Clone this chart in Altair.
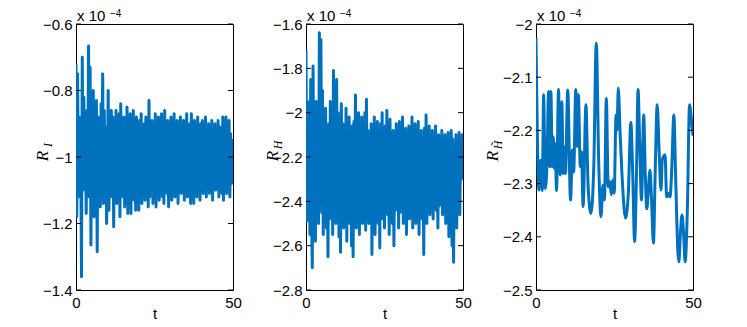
import altair as alt
import pandas as pd

W, H = 157, 266
LINE_COLOR = "#0072BD"

# sample times for the two dense series
t_dense = [i * 0.25 for i in range(201)]

R_I = [
    -0.72, -1.18, -0.75, -1.05, -0.88, -1.12, -0.95, -1.36, -0.70, -1.10,
    -0.82, -1.08, -0.90, -1.17, -0.86, -1.05, -0.666, -1.12, -0.73, -1.265,
    -0.85, -1.10, -0.80, -1.18, -0.92, -1.06, -0.83, -1.285, -0.88, -1.12,
    -0.90, -1.15, -0.84, -1.05, -0.75, -1.14, -0.86, -1.08, -0.91, -1.20,
    -1.04, -0.80, -1.16, -0.90, -1.12, -0.86, -1.07, -0.88, -1.21, -0.92,
    -1.10, -0.86, -1.14, -0.93, -1.06, -0.87, -1.18, -0.84, -1.09, -0.90,
    -1.12, -0.88, -1.15, -0.92, -1.05, -0.85, -1.17, -0.89, -1.10, -0.87,
    -1.17, -0.94, -1.08, -0.86, -1.13, -0.91, -1.16, -0.88, -1.06, -0.93,
    -1.16, -0.89, -1.11, -0.87, -1.14, -0.92, -1.05, -0.90, -1.13, -0.88,
    -1.09, -0.93, -1.15, -0.83, -1.12, -0.90, -1.06, -0.89, -1.14, -0.92,
    -1.08, -0.87, -1.15, -0.91, -1.10, -0.88, -1.13, -0.94, -1.05, -0.87,
    -1.12, -0.90, -1.14, -0.86, -1.07, -0.92, -1.11, -0.89, -1.15, -0.93,
    -1.06, -0.88, -1.13, -0.91, -1.09, -0.87, -1.12, -0.94, -1.07, -0.89,
    -1.14, -0.92, -1.08, -0.88, -1.11, -0.93, -1.05, -0.89, -1.13, -0.91,
    -1.09, -0.87, -1.12, -0.94, -1.06, -0.90, -1.14, -0.87, -1.10, -0.92,
    -1.14, -0.89, -1.07, -0.93, -1.12, -0.88, -1.09, -0.91, -1.13, -0.90,
    -1.06, -0.89, -1.11, -0.93, -1.08, -0.88, -1.12, -0.92, -1.05, -0.90,
    -1.11, -0.94, -1.07, -0.89, -1.13, -0.92, -1.06, -0.90, -1.10, -0.93,
    -1.08, -0.89, -1.12, -0.91, -1.06, -0.93, -1.11, -0.88, -1.13, -0.92,
    -1.07, -0.88, -1.11, -0.92, -1.06, -0.89, -1.12, -0.93, -1.08, -0.95,
    -1.04,
]

R_H = [
    -1.72, -2.49, -1.95, -2.30, -2.10, -2.55, -1.85, -2.45, -2.70, -1.79,
    -2.40, -2.05, -2.58, -1.95, -2.35, -2.10, -2.50, -1.64, -2.30, -1.67,
    -2.45, -1.90, -2.55, -2.08, -2.40, -1.98, -2.52, -2.12, -2.65, -2.05,
    -2.48, -1.95, -2.38, -2.02, -2.55, -1.81, -2.42, -2.10, -2.50, -1.85,
    -2.44, -2.00, -2.56, -2.08, -2.63, -1.96, -2.40, -2.05, -2.52, -2.12,
    -2.45, -1.98, -2.58, -2.10, -2.38, -2.02, -2.50, -2.14, -2.60, -2.06,
    -2.65, -2.04, -2.42, -1.92, -2.52, -2.10, -2.36, -2.00, -2.55, -2.12,
    -2.44, -2.02, -2.50, -2.15, -2.40, -2.00, -2.53, -1.94, -2.38, -2.08,
    -2.50, -2.10, -2.46, -2.05, -2.64, -2.12, -2.42, -2.02, -2.55, -2.15,
    -2.40, -2.04, -2.50, -2.12, -2.61, -2.05, -2.38, -2.00, -2.48, -2.14,
    -2.52, -2.06, -2.42, -1.99, -2.46, -2.12, -2.55, -2.03, -2.40, -2.10,
    -2.50, -2.08, -2.60, -2.14, -2.44, -2.05, -2.38, -2.11, -2.52, -2.04,
    -2.45, -2.10, -2.36, -2.02, -2.50, -2.13, -2.42, -2.07, -2.55, -2.10,
    -2.44, -2.06, -2.48, -2.12, -2.38, -2.02, -2.52, -2.14, -2.40, -2.05,
    -2.50, -2.10, -2.43, -2.04, -2.55, -2.13, -2.40, -2.08, -2.48, -2.15,
    -2.64, -2.07, -2.42, -2.01, -2.50, -2.12, -2.38, -2.06, -2.46, -2.14,
    -2.40, -2.08, -2.48, -2.15, -2.36, -2.06, -2.44, -2.12, -2.52, -2.10,
    -2.42, -2.14, -2.38, -2.08, -2.46, -2.16, -2.40, -2.10, -2.50, -2.12,
    -2.44, -2.09, -2.56, -2.14, -2.40, -2.08, -2.60, -2.12, -2.675, -2.18,
    -2.45, -2.10, -2.52, -2.15, -2.38, -2.09, -2.46, -2.12, -2.30, -2.10,
    -2.18,
]

t_smooth = [
    0, 0.95, 1.48, 2.0, 2.43, 2.95, 3.5, 4.0, 4.43, 4.75, 5.17, 5.49, 5.8, 6.1,
    6.54, 7.17, 7.7, 8.23, 8.65, 8.97, 9.39, 10.1, 11.0, 11.6, 12.0, 12.66,
    13.1, 13.5, 14.1, 14.5, 15.0, 15.9, 16.6, 17.5, 18.4, 19.2, 20.0, 20.7,
    21.3, 21.8, 22.4, 23.0, 23.5, 24.0, 24.4, 24.9, 25.5, 25.8, 26.2, 26.8,
    27.6, 28.5, 29.4, 30.2, 30.8, 31.4, 32.0, 32.5, 33.0, 33.6, 34.3, 34.8,
    35.3, 35.7, 36.3, 36.8, 37.4, 38.0, 38.6, 39.2, 39.8, 40.2, 41.1, 41.6,
    42.1, 42.7, 43.2, 43.9, 44.5, 45.2, 45.5, 46.0, 46.5, 47.0, 47.5, 48.2,
    48.9, 49.5, 50.0,
]
R_Ht = [
    -2.027, -2.312, -2.256, -2.313, -2.133, -2.309, -2.262, -2.127, -2.268,
    -2.127, -2.268, -2.212, -2.271, -2.225, -2.313, -2.123, -2.284, -2.146,
    -2.281, -2.231, -2.281, -2.124, -2.331, -2.237, -2.278, -2.123, -2.23,
    -2.133, -2.268, -2.24, -2.343, -2.152, -2.306, -2.356, -2.268, -2.036,
    -2.268, -2.362, -2.303, -2.331, -2.14, -2.306, -2.296, -2.321, -2.293,
    -2.318, -2.171, -2.2, -2.121, -2.206, -2.306, -2.365, -2.318, -2.185,
    -2.281, -2.409, -2.281, -2.123, -2.218, -2.331, -2.171, -2.281, -2.347,
    -2.318, -2.275, -2.331, -2.412, -2.268, -2.152, -2.237, -2.312, -2.256,
    -2.246, -2.325, -2.318, -2.325, -2.278, -2.171, -2.293, -2.43, -2.447,
    -2.393, -2.359, -2.393, -2.447, -2.349, -2.152, -2.18, -2.21,
]

x_ticks = [0, 50]
y_ticks_1 = [-1.4, -1.2, -1.0, -0.8, -0.6]
y_ticks_2 = [-2.8, -2.6, -2.4, -2.2, -2.0, -1.8, -1.6]
y_ticks_3 = [-2.5, -2.4, -2.3, -2.2, -2.1, -2.0]

FONT = "Liberation Sans"
SERIF = "Liberation Serif"


def panel(t, v, ticks, main, sub, title_x, interp):
    dom = [min(ticks), max(ticks)]
    df = pd.DataFrame({"t": t, "v": v})
    line = alt.Chart(df).mark_line(
        color=LINE_COLOR, strokeWidth=3, clip=True, interpolate=interp,
        strokeJoin="round",
    ).encode(
        x=alt.X("t:Q", scale=alt.Scale(domain=[0, 50], nice=False, zero=False),
                axis=alt.Axis(values=x_ticks, title="t", labelFlush=False,
                              labelPadding=5, labelBaseline="top",
                              titleY=28, titleBaseline="alphabetic",
                              titleFontWeight="normal", titleFont=FONT,
                              titleFontSize=15)),
        y=alt.Y("v:Q", scale=alt.Scale(domain=dom, nice=False, zero=False),
                axis=alt.Axis(values=ticks, format=".1~f", title=None,
                              labelPadding=4)),
    )
    tick_df = pd.DataFrame({"v": ticks})
    lt = alt.Chart(tick_df).mark_rule(color="black", strokeWidth=1).encode(
        y="v:Q", x=alt.value(0), x2=alt.value(5))
    rt = alt.Chart(tick_df).mark_rule(color="black", strokeWidth=1).encode(
        y="v:Q", x=alt.value(W - 5), x2=alt.value(W))
    r_txt = alt.Chart().mark_text(
        text=main, angle=270, font=SERIF, fontStyle="italic", fontSize=17,
        align="center", baseline="middle", color="black",
    ).encode(x=alt.value(title_x), y=alt.value(H / 2 - 1))
    s_txt = alt.Chart().mark_text(
        text=sub, angle=270, font=SERIF, fontStyle="italic", fontSize=12,
        align="center", baseline="middle", color="black",
    ).encode(x=alt.value(title_x + 5), y=alt.value(H / 2 - 12))
    e1 = alt.Chart().mark_text(
        text="x 10", font=FONT, fontSize=15, align="left",
        baseline="alphabetic", color="black",
    ).encode(x=alt.value(1), y=alt.value(-3))
    e2 = alt.Chart().mark_text(
        text="\u22124", font=FONT, fontSize=10, align="left",
        baseline="alphabetic", color="black",
    ).encode(x=alt.value(34), y=alt.value(-7))
    return alt.layer(line, lt, rt, r_txt, s_txt, e1, e2).properties(
        width=W, height=H)


p1 = panel(t_dense, R_I, y_ticks_1, "R", "I", -33, "linear")
p2 = panel(t_dense, R_H, y_ticks_2, "R", "H", -33, "linear")
p3 = panel(t_smooth, R_Ht, y_ticks_3, "R", "H\u0303", -43, "monotone")

chart = alt.hconcat(p1, p2, p3, spacing=73, bounds="flush").resolve_scale(
    x="independent", y="independent"
).properties(
    padding={"left": 25, "top": 0, "right": 5, "bottom": 5},
    background="white",
).configure_view(
    stroke="black", strokeWidth=1, fill="white"
).configure_axis(
    labelFont=FONT, labelFontSize=15, labelColor="black", ticks=False,
    domain=False, grid=False, titleColor="black",
)

chart.save("out.html", embed_options={"renderer": "svg", "actions": False})
